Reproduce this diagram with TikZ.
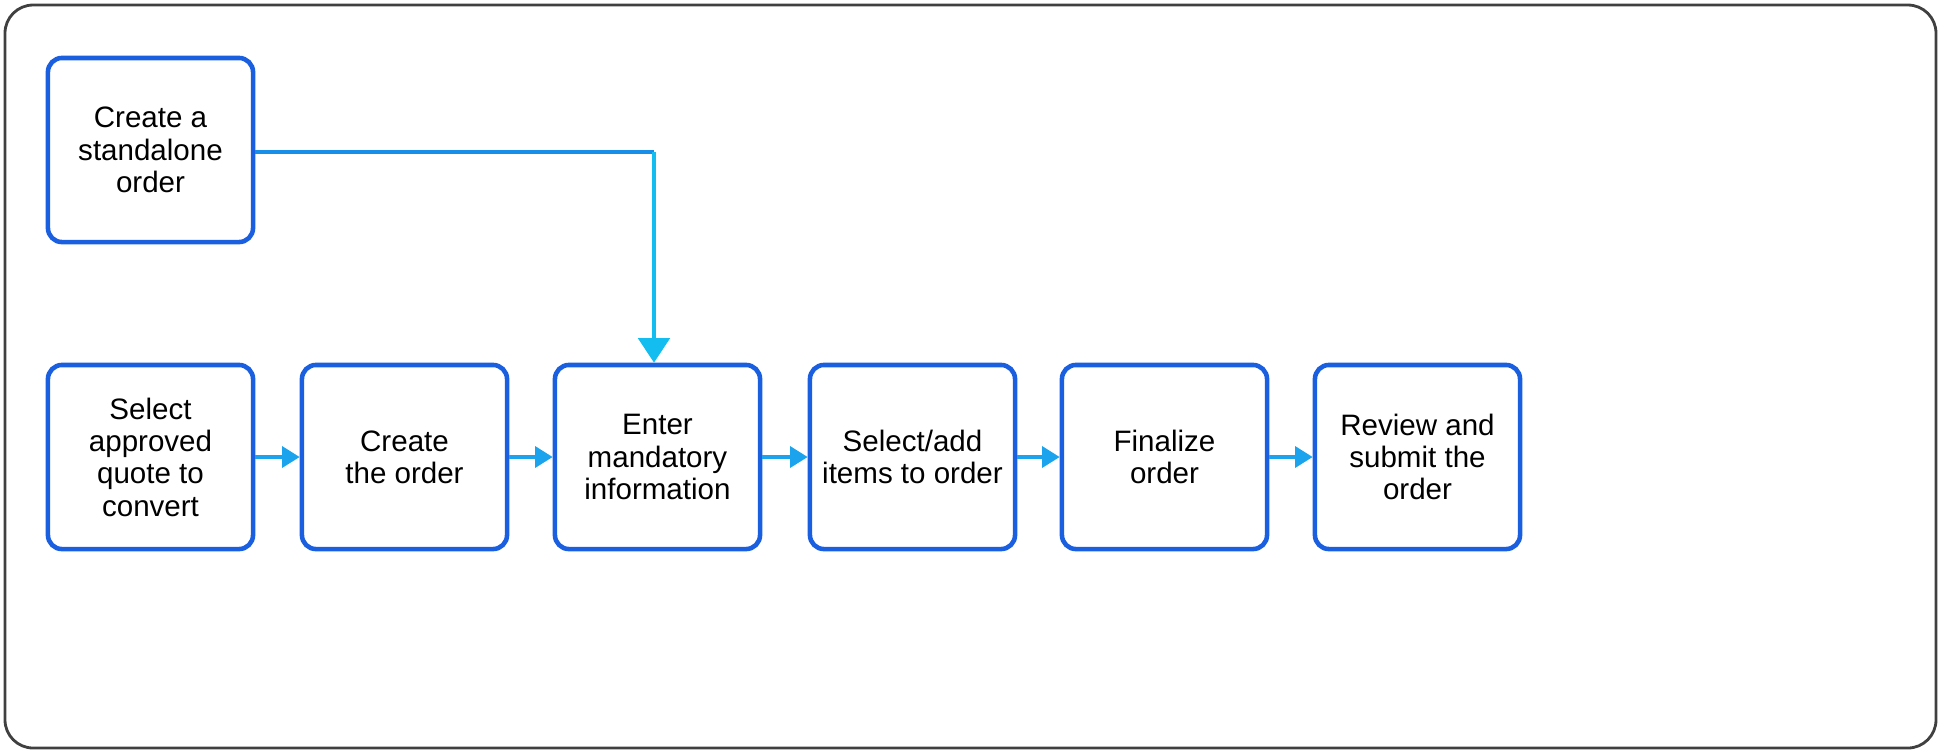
\documentclass[tikz,border=0pt]{standalone}
\usepackage{fontspec}
\setmainfont{Liberation Sans}
\usetikzlibrary{positioning,arrows.meta}
\definecolor{boxblue}{HTML}{1A5FE0}
\definecolor{flowblue}{HTML}{1BA3EE}
\definecolor{flowcyan}{HTML}{14BDF0}
\begin{document}
\begin{tikzpicture}[x=0.01cm,y=-0.01cm,
  stepbox/.style={draw=boxblue,line width=1.3pt,rounded corners=4pt,
    minimum width=2.05cm,minimum height=1.84cm,align=center,
    font=\fontsize{8.4}{9.2}\selectfont,inner sep=1pt},
  flow/.style={draw=flowblue,line width=0.9pt,-{Triangle[length=5pt,width=6pt]}}]
  \useasboundingbox (0,0) rectangle (1941,753);
  % Outer frame
  \draw[draw=black!75,line width=0.8pt,rounded corners=8pt] (5,5) rectangle (1936,748);
  % Top box
  \node[stepbox] (standalone) at (150.5,150) {Create a\\standalone\\order};
  % Main row
  \node[stepbox] (quote) at (150.5,457) {Select\\approved\\quote to\\convert};
  \node[stepbox] (create) at (404.5,457) {Create\\the order};
  \node[stepbox] (enter) at (657.5,457) {Enter\\mandatory\\information};
  \node[stepbox] (items) at (912.5,457) {Select/add\\items to order};
  \node[stepbox] (finalize) at (1164.5,457) {Finalize\\order};
  \node[stepbox] (review) at (1417.5,457) {Review and\\submit the\\order};
  \coordinate (bend) at (654,152);
  \draw[draw=boxblue!50!flowcyan,line width=0.9pt] (standalone.east |- bend) -- (bend);
  \draw[flow,draw=flowcyan,-{Triangle[length=7pt,width=9pt]}] (bend) -- (bend |- enter.north);
  \draw[flow] (quote) -- (create);
  \draw[flow] (create) -- (enter);
  \draw[flow] (enter) -- (items);
  \draw[flow] (items) -- (finalize);
  \draw[flow] (finalize) -- (review);
\end{tikzpicture}
\end{document}
